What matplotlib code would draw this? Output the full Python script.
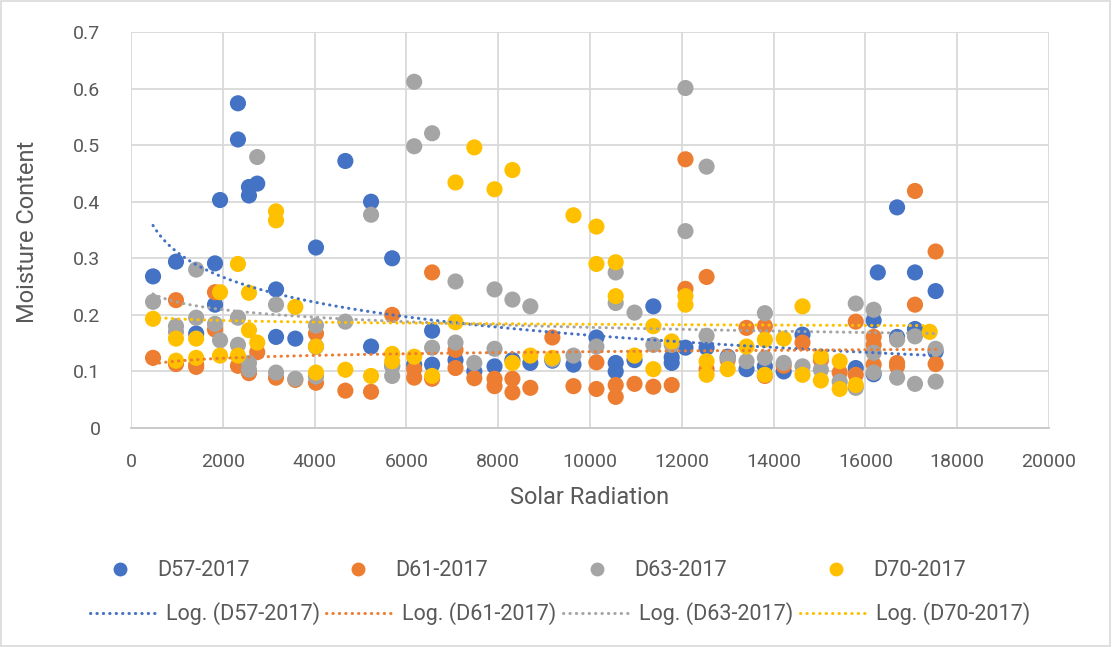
import matplotlib
matplotlib.use("Agg")
import matplotlib.pyplot as plt
import numpy as np
from matplotlib.lines import Line2D
from matplotlib.patches import Rectangle

# solar radiation / moisture content readings per station (2017)
d57_x = [480, 980, 1420, 1830, 1830, 1940, 2330, 2330, 2570, 2570, 2750, 3160, 3160, 3580,
         4030, 4030, 4670, 5230, 5230, 5690, 6170, 6560, 6560, 7070, 7480, 7920, 8310, 8700,
         9180, 9640, 10140, 10560, 10560, 10970, 11380, 11780, 11780, 12080, 12540, 13000,
         13410, 13810, 14220, 14630, 15790, 16180, 16180, 16270, 16690, 16690, 17080, 17080,
         17530, 17530]
d57_y = [0.268, 0.294, 0.167, 0.291, 0.218, 0.403, 0.574, 0.510, 0.426, 0.411, 0.432, 0.245,
         0.161, 0.158, 0.319, 0.144, 0.472, 0.400, 0.144, 0.300, 0.112, 0.172, 0.112, 0.120,
         0.100, 0.109, 0.120, 0.115, 0.119, 0.112, 0.160, 0.115, 0.100, 0.120, 0.215, 0.115,
         0.125, 0.142, 0.142, 0.126, 0.104, 0.109, 0.100, 0.165, 0.106, 0.190, 0.095, 0.275,
         0.390, 0.161, 0.275, 0.175, 0.242, 0.135]

d61_x = [480, 980, 980, 1420, 1420, 1830, 1830, 2330, 2570, 2750, 3160, 3580, 4030, 4030,
         4670, 5230, 5690, 5690, 6170, 6170, 6560, 6560, 7070, 7070, 7480, 7920, 7920, 8310,
         8310, 8700, 9180, 9640, 10140, 10140, 10560, 10560, 10970, 11380, 11780, 12080, 12080,
         12540, 12540, 13000, 13410, 13810, 13810, 14220, 14630, 15030, 15440, 15790, 15790,
         16180, 16180, 16180, 16690, 16690, 17080, 17080, 17530, 17530]
d61_y = [0.124, 0.226, 0.113, 0.112, 0.108, 0.240, 0.174, 0.110, 0.097, 0.134, 0.089, 0.085,
         0.167, 0.080, 0.066, 0.064, 0.200, 0.110, 0.089, 0.104, 0.275, 0.087, 0.138, 0.106,
         0.088, 0.087, 0.074, 0.087, 0.063, 0.071, 0.160, 0.074, 0.116, 0.069, 0.076, 0.055,
         0.078, 0.073, 0.076, 0.475, 0.246, 0.267, 0.104, 0.120, 0.177, 0.180, 0.092, 0.110,
         0.151, 0.120, 0.098, 0.188, 0.094, 0.161, 0.147, 0.112, 0.115, 0.109, 0.419, 0.218,
         0.312, 0.113]

d63_x = [480, 980, 980, 1420, 1420, 1830, 1940, 2330, 2330, 2570, 2570, 2750, 3160, 3160,
         3580, 4030, 4030, 4670, 5230, 5690, 5690, 6170, 6170, 6560, 6560, 7070, 7070, 7480,
         7920, 7920, 8310, 8700, 9180, 9640, 10140, 10560, 10560, 10970, 11380, 11780, 12080,
         12080, 12540, 12540, 13000, 13410, 13810, 13810, 14220, 14630, 15030, 15440, 15790,
         15790, 16180, 16180, 16180, 16690, 16690, 17080, 17080, 17530, 17530]
d63_y = [0.223, 0.180, 0.170, 0.280, 0.195, 0.184, 0.155, 0.195, 0.147, 0.115, 0.103, 0.479,
         0.218, 0.098, 0.087, 0.181, 0.091, 0.188, 0.377, 0.109, 0.092, 0.612, 0.498, 0.521,
         0.142, 0.259, 0.151, 0.115, 0.245, 0.140, 0.227, 0.215, 0.121, 0.128, 0.144, 0.275,
         0.221, 0.204, 0.147, 0.147, 0.601, 0.348, 0.462, 0.163, 0.124, 0.118, 0.203, 0.124,
         0.115, 0.109, 0.103, 0.082, 0.220, 0.071, 0.209, 0.133, 0.098, 0.156, 0.089, 0.162,
         0.078, 0.140, 0.082]

d70_x = [480, 980, 980, 1420, 1420, 1940, 1940, 2330, 2330, 2570, 2570, 2750, 3160, 3160,
         3580, 4030, 4030, 4670, 5230, 5690, 5690, 6170, 6560, 7070, 7070, 7480, 7920, 8310,
         8310, 8700, 9180, 9640, 10140, 10140, 10560, 10560, 10970, 11380, 11380, 11780, 12080,
         12080, 12540, 12540, 13000, 13410, 13810, 13810, 14220, 14630, 14630, 15030, 15030,
         15440, 15440, 15790, 17400]
d70_y = [0.193, 0.158, 0.119, 0.158, 0.124, 0.240, 0.128, 0.290, 0.128, 0.239, 0.173, 0.151,
         0.383, 0.367, 0.214, 0.144, 0.098, 0.103, 0.092, 0.131, 0.118, 0.126, 0.092, 0.434,
         0.187, 0.496, 0.422, 0.456, 0.115, 0.128, 0.124, 0.376, 0.356, 0.290, 0.293, 0.233,
         0.128, 0.180, 0.104, 0.153, 0.233, 0.218, 0.118, 0.094, 0.104, 0.144, 0.156, 0.094,
         0.158, 0.215, 0.094, 0.126, 0.084, 0.118, 0.069, 0.076, 0.170]

names = ["D57-2017", "D61-2017", "D63-2017", "D70-2017"]
colors = ["#4472C4", "#ED7D31", "#A5A5A5", "#FFC000"]
series = [(d57_x, d57_y), (d61_x, d61_y), (d63_x, d63_y), (d70_x, d70_y)]

# log trendline values at first / last radiation reading
trend_start = [0.358, 0.113, 0.237, 0.196]
trend_end = [0.128, 0.139, 0.167, 0.181]

FONT = "Roboto"
TXT = "#595959"
DOTS = (0, (0.1, 2.0))

fig = plt.figure(figsize=(11.12, 6.47), dpi=100)
ax = fig.add_axes([131 / 1112, 1 - 428 / 647, 918 / 1112, 396 / 647])

for (xs, ys), c in zip(series, colors):
    ax.scatter(xs, ys, s=135, color=c, edgecolors="none", zorder=3)

# Excel style logarithmic trendlines: y = a*ln(x) + b
for (xs, ys), c, y0, y1 in zip(series, colors, trend_start, trend_end):
    x0, x1 = min(xs), max(xs)
    a = (y1 - y0) / np.log(x1 / x0)
    xt = np.linspace(x0, x1, 300)
    ax.plot(xt, y0 + a * np.log(xt / x0), color=c, lw=2.2,
            linestyle=DOTS, dash_capstyle="round", zorder=4)

ax.set_xlim(0, 20000)
ax.set_ylim(0, 0.7)
ax.set_xticks(np.arange(0, 20001, 2000))
ax.set_yticks(np.arange(0, 0.71, 0.1))
ax.set_xticklabels([str(v) for v in range(0, 20001, 2000)], fontsize=14, color=TXT, family=FONT)
ax.set_yticklabels(["0"] + ["%.1f" % v for v in np.arange(0.1, 0.71, 0.1)],
                   fontsize=14, color=TXT, family=FONT)
ax.tick_params(length=0)
ax.tick_params(axis="x", pad=18)
ax.tick_params(axis="y", pad=22)
ax.grid(True, color="#d9d9d9", lw=1.3)
ax.set_axisbelow(True)
for s in ["top", "right", "left"]:
    ax.spines[s].set_visible(False)
ax.spines["bottom"].set_color("#c8c8c8")
ax.spines["bottom"].set_linewidth(1.3)

fig.text(590 / 1112, 1 - 497 / 647, "Solar Radiation", ha="center", va="center",
         fontsize=17, color=TXT, family=FONT)
fig.text(27 / 1112, 1 - 232 / 647, "Moisture Content", ha="center", va="center",
         rotation=90, fontsize=17, color=TXT, family=FONT)

# legend: markers row, trendline row
h1 = [Line2D([], [], ls="none", marker="o", ms=9, color=c) for c in colors]
leg1 = fig.legend(h1, names, ncol=4, loc="center", bbox_to_anchor=(532 / 1112, 1 - 571 / 647),
                  frameon=False, borderpad=0, borderaxespad=0, handlelength=2.0,
                  handletextpad=0.72, columnspacing=4.07,
                  prop={"family": FONT, "size": 15.5})
for t in leg1.get_texts():
    t.set_color(TXT)

h2 = [Line2D([], [], color=c, lw=2.2, linestyle=DOTS, dash_capstyle="round")
      for c in colors]
leg2 = fig.legend(h2, ["Log. (%s)" % n for n in names], ncol=4, loc="center",
                  bbox_to_anchor=(560 / 1112, 1 - 614 / 647), frameon=False, borderpad=0,
                  borderaxespad=0, handlelength=3.2, handletextpad=0.33, columnspacing=0.3,
                  prop={"family": FONT, "size": 15.5})
for t in leg2.get_texts():
    t.set_color(TXT)

fig.patches.append(Rectangle((0.001, 0.002), 0.997, 0.996, transform=fig.transFigure,
                             fill=False, edgecolor="#d9d9d9", lw=1.2))

fig.savefig("out.png", dpi=100)
